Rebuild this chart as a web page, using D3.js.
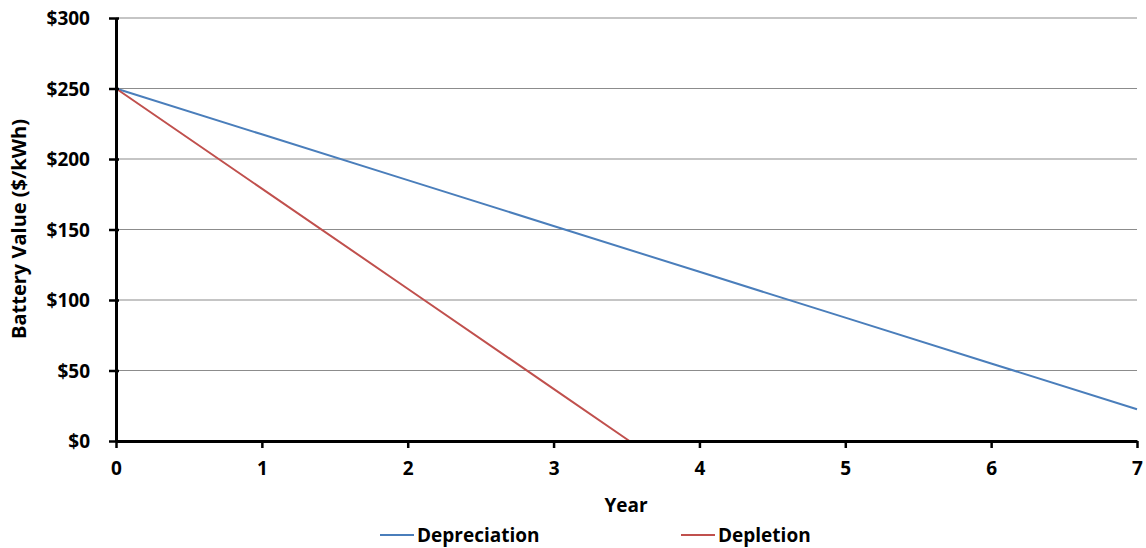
<!DOCTYPE html>
<meta charset="utf-8">
<style>
  body { margin: 0; background: #fff; }
  text { font-family: "Open Sans", Lato, sans-serif; font-weight: bold; fill: #000; }
</style>
<body>
<svg width="1146" height="548"></svg>
<script src="https://d3js.org/d3.v7.min.js"></script>
<script>
// data
var years = [0, 1, 2, 3, 4, 5, 6, 7];
var depreciation = [250, 217.5, 185, 152.5, 120, 87.5, 55, 22.5];
var depletionYears = [0, 1, 2, 3, 3.52];
var depletion = [250, 179, 108, 37, 0];
var yTicks = [0, 50, 100, 150, 200, 250, 300];
var seriesNames = ["Depreciation", "Depletion"];
var seriesColors = ["#4a7ebb", "#c0504d"];

var margin = { top: 18, right: 9, bottom: 107, left: 116 },
    width = 1146,
    height = 548;

var svg = d3.select("svg");

var x = d3.scaleLinear().domain([0, 7]).range([margin.left, width - margin.right]);
var y = d3.scaleLinear().domain([0, 300]).range([height - margin.bottom, margin.top]);

// gridlines
svg.append("g")
  .selectAll("line")
  .data(yTicks.filter(function (d) { return d > 0; }))
  .enter().append("line")
    .attr("x1", x(0)).attr("x2", x(7))
    .attr("y1", function (d) { return y(d); })
    .attr("y2", function (d) { return y(d); })
    .attr("stroke", "#8c8c8c")
    .attr("stroke-width", 1.2);

// lines
var line = d3.line()
  .x(function (d) { return x(d[0]); })
  .y(function (d) { return y(d[1]); });

svg.append("path")
  .datum(d3.zip(years, depreciation))
  .attr("d", line)
  .attr("fill", "none")
  .attr("stroke", seriesColors[0])
  .attr("stroke-width", 2);

svg.append("path")
  .datum(d3.zip(depletionYears, depletion))
  .attr("d", line)
  .attr("fill", "none")
  .attr("stroke", seriesColors[1])
  .attr("stroke-width", 2);

// y axis
var yAxis = d3.axisLeft(y)
  .tickValues(yTicks)
  .tickFormat(function (d) { return "$" + d; })
  .tickSizeInner(6)
  .tickSizeOuter(0)
  .tickPadding(20);
var gy = svg.append("g")
  .attr("transform", "translate(" + x(0) + ",0)")
  .call(yAxis);
gy.select(".domain").attr("stroke", "#000").attr("stroke-width", 3);
gy.selectAll(".tick line").attr("stroke", "#000").attr("stroke-width", 2.5).attr("x2", 3).attr("x1", -7);
gy.selectAll(".tick text").style("font-size", "19px").attr("dy", "0.35em");

// x axis
var xAxis = d3.axisBottom(x)
  .tickValues(years)
  .tickFormat(d3.format("d"))
  .tickSizeInner(7)
  .tickSizeOuter(0)
  .tickPadding(14);
var gx = svg.append("g")
  .attr("transform", "translate(0," + y(0) + ")")
  .call(xAxis);
gx.select(".domain").attr("stroke", "#000").attr("stroke-width", 3);
gx.selectAll(".tick line").attr("stroke", "#000").attr("stroke-width", 2.5);
gx.selectAll(".tick text").style("font-size", "19px");

// axis titles
svg.append("text")
  .attr("x", 626)
  .attr("y", 512)
  .attr("text-anchor", "middle")
  .style("font-size", "19px")
  .text("Year");

svg.append("text")
  .attr("transform", "translate(26," + 229 + ") rotate(-90)")
  .attr("text-anchor", "middle")
  .style("font-size", "20px")
  .text("Battery Value ($/kWh)");

// legend
var legendX = [380, 681];
var legend = svg.append("g").selectAll("g")
  .data(seriesNames)
  .enter().append("g")
    .attr("transform", function (d, i) { return "translate(" + legendX[i] + ",535)"; });
legend.append("line")
  .attr("x1", 0).attr("x2", 34)
  .attr("stroke", function (d, i) { return seriesColors[i]; })
  .attr("stroke-width", 2);
legend.append("text")
  .attr("x", 37)
  .attr("dy", "0.35em")
  .style("font-size", "19px")
  .text(function (d) { return d; });
</script>
</body>
